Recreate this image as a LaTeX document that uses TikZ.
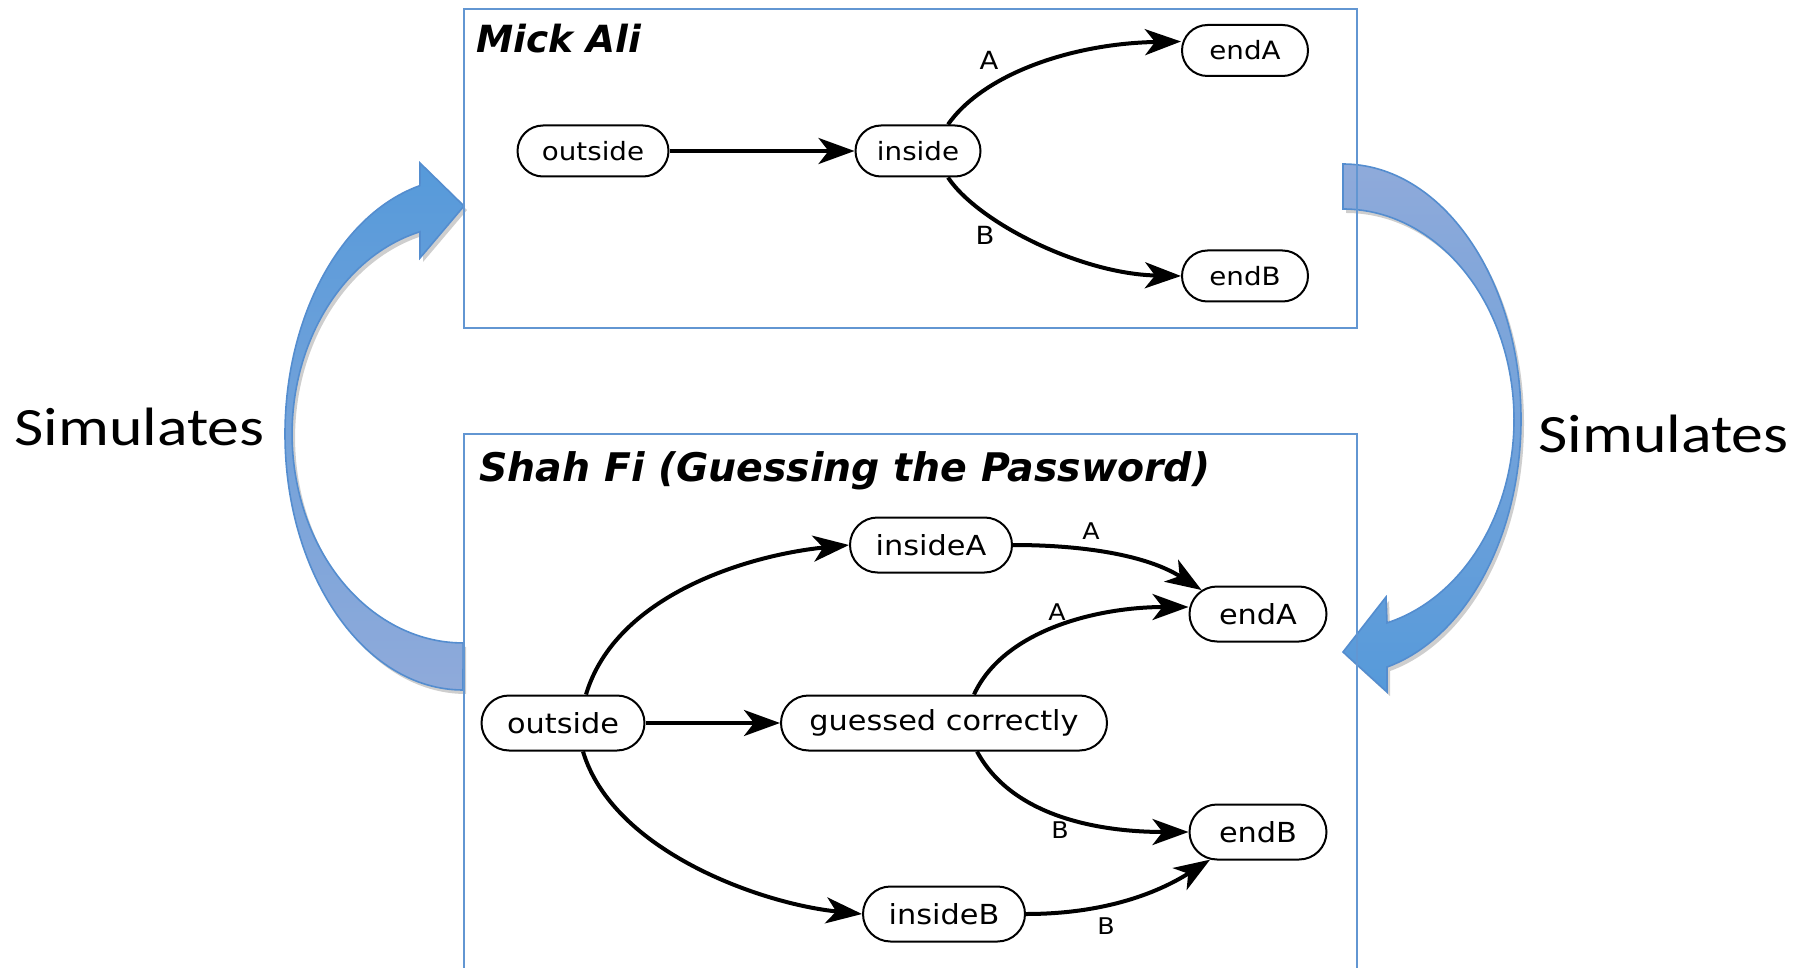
\documentclass[tikz,border=0pt]{standalone}
\usepackage{fontspec}
\usetikzlibrary{arrows.meta,shapes.misc}
\newfontfamily\statefont[FakeStretch=1.1]{DejaVu Sans}
\newfontfamily\headfont{DejaVu Sans}
\newfontfamily\simfont[FakeStretch=1.18]{Carlito}
\definecolor{frameblue}{RGB}{98,150,210}
\definecolor{bandbright}{RGB}{86,154,218}
\definecolor{bandmid}{RGB}{112,160,218}
\definecolor{banddull}{RGB}{143,170,218}
\definecolor{bandline}{RGB}{84,141,207}

% the two curved "Simulates" ribbons (coordinates in pixels, y pointing down)
\newcommand\leftband{(463,690) arc[start angle=90,end angle=256,x radius=178,y radius=256]
  -- (420,163) -- (464,206) -- (420,258) -- (420,231.7)
  arc[start angle=255.4,end angle=90,x radius=171,y radius=209] -- cycle}
\newcommand\rightband{(1343,164) arc[start angle=-90,end angle=75.69,x radius=178,y radius=255.5]
  -- (1387,692) -- (1343,652) -- (1386,597) -- (1387,622.9)
  arc[start angle=75.09,end angle=-90,x radius=171,y radius=210.5] -- cycle}

\tikzset{
  statebox/.style={draw, line width=1pt, rounded rectangle, fill=white, inner sep=0pt, text=black},
  topstate/.style={statebox, minimum height=25.5pt, font=\statefont\fontsize{12.6pt}{15pt}\selectfont},
  lowstate/.style={statebox, minimum height=27.5pt, font=\statefont\fontsize{13.8pt}{16pt}\selectfont},
  edgearrow/.style={line width=2pt, -{Stealth[length=18pt,width=13pt,inset=5pt]}},
  toplabel/.style={inner sep=0pt, font=\statefont\fontsize{12.5pt}{14pt}\selectfont},
  lowlabel/.style={inner sep=0pt, font=\statefont\fontsize{11.5pt}{13pt}\selectfont},
  panelframe/.style={draw=frameblue, line width=0.7pt},
  paneltitle/.style={anchor=base west, inner sep=0pt},
  simtext/.style={anchor=base west, inner sep=0pt, font=\simfont\fontsize{27pt}{32pt}\selectfont},
  bandshadow/.style={fill=black!55, opacity=0.35, xshift=1.5pt, yshift=-2pt},
}

\begin{document}
\begin{tikzpicture}[x=0.5pt,y=-0.5pt]
\useasboundingbox (0,0) rectangle (1810,968);

% ribbons
\fill[bandshadow] \leftband;
\path[top color=bandbright, middle color=bandmid, bottom color=banddull, draw=bandline, line width=0.8pt] \leftband;
\fill[bandshadow] \rightband;
\path[top color=banddull, middle color=bandmid, bottom color=bandbright, draw=bandline, line width=0.8pt] \rightband;

% panels
\draw[panelframe] (464,9) rectangle (1357,328);
\draw[panelframe] (464,968) -- (464,434) -- (1357,434) -- (1357,968);

\node[paneltitle, font=\headfont\bfseries\itshape\fontsize{18.7pt}{22pt}\selectfont] (titletop) at (476,53) {Mick Ali};
\node[paneltitle, font=\headfont\bfseries\itshape\fontsize{19.7pt}{23pt}\selectfont] (titlelow) at (479,481) {Shah Fi (Guessing the Password)};

\node[simtext] (simleft) at (14,445) {Simulates};
\node[simtext] (simright) at (1538,452) {Simulates};

% upper machine
\node[topstate, minimum width=75.5pt] (toutside) at (593,151) {outside};
\node[topstate, minimum width=62.5pt] (tinside) at (918,151) {inside};
\node[topstate, minimum width=63pt] (tendA) at (1245,50.5) {endA};
\node[topstate, minimum width=63pt] (tendB) at (1245,276) {endB};

\draw[edgearrow] (toutside.east) -- (tinside.west);
\draw[edgearrow] ([xshift=15pt]tinside.north) .. controls +(35,-50) and +(-110,2) .. ([yshift=4.5pt]tendA.west);
\draw[edgearrow] ([xshift=15pt]tinside.south) .. controls +(30,45) and +(-100,-2) .. (tendB.west);
\node[toplabel] (tlabA) at (989,60) {A};
\node[toplabel] (tlabB) at (985,235) {B};

% lower machine
\node[lowstate, minimum width=81pt] (binsideA) at (931,545) {insideA};
\node[lowstate, minimum width=68.5pt] (bendA) at (1258,614) {endA};
\node[lowstate, minimum width=81.5pt] (boutside) at (563,723) {outside};
\node[lowstate, minimum width=163pt] (bguessed) at (944,723) {guessed correctly};
\node[lowstate, minimum width=68.5pt] (bendB) at (1258,832) {endB};
\node[lowstate, minimum width=81pt] (binsideB) at (944,914) {insideB};

\draw[edgearrow] (boutside.east) -- (bguessed.west);
\draw[edgearrow] ([xshift=11.5pt]boutside.north) .. controls +(30,-100) and +(-100,10) .. (binsideA.west);
\draw[edgearrow] ([xshift=10pt]boutside.south) .. controls +(30,100) and +(-100,-10) .. (binsideB.west);
\draw[edgearrow] (binsideA.east) .. controls +(70,0) and +(-55,-35) .. (bendA.157);
\draw[edgearrow] ([xshift=15pt]bguessed.north) .. controls +(30,-65) and +(-90,0) .. ([yshift=3.5pt]bendA.west);
\draw[edgearrow] ([xshift=16.5pt]bguessed.south) .. controls +(35,65) and +(-90,0) .. (bendB.west);
\draw[edgearrow] (binsideB.east) .. controls +(75,0) and +(-55,35) .. (bendB.210);

\node[lowlabel] (blabA1) at (1091,531) {A};
\node[lowlabel] (blabA2) at (1057,612) {A};
\node[lowlabel] (blabB1) at (1060,830) {B};
\node[lowlabel] (blabB2) at (1106,926) {B};
\end{tikzpicture}
\end{document}
